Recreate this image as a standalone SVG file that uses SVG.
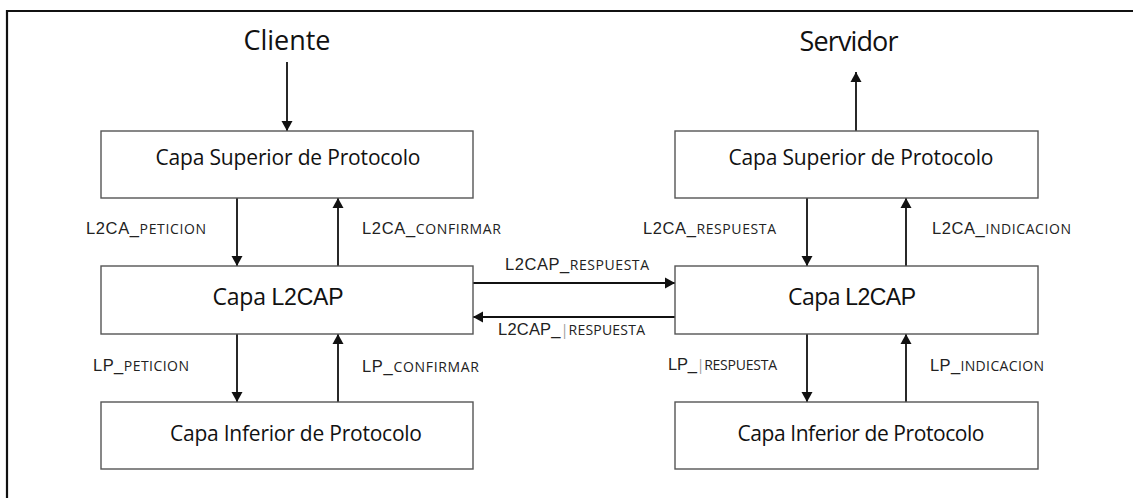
<svg xmlns="http://www.w3.org/2000/svg" width="1133" height="498" viewBox="0 0 1133 498">
  <style>
    .frame { stroke: #111; stroke-width: 2.2; fill: none; }
    .box { fill: #fff; stroke: #555; stroke-width: 1.4; }
    .title { font-family: "Open Sans", "Noto Sans", sans-serif; font-size: 27px; fill: #111; text-anchor: middle; }
    .boxtxt { font-family: "Open Sans", "Noto Sans", sans-serif; font-size: 21px; fill: #111; text-anchor: middle; }
    .l2 { font-family: "Open Sans", "Noto Sans", sans-serif; font-size: 23px; fill: #111; text-anchor: middle; }
    .mono { font-family: "Liberation Sans", Arial, sans-serif; }
    .lbl { font-family: "Liberation Sans", Arial, sans-serif; font-size: 16.5px; fill: #222; }
    .sm { font-family: "Open Sans", "Noto Sans", sans-serif; font-size: 14px; }
    .bar { fill: #999; }
    .conn { stroke: #111; stroke-width: 1.8; fill: none; marker-end: url(#arrow); }
  </style>
  <defs>
    <marker id="arrow" viewBox="0 0 10 14" refX="10" refY="7" markerWidth="11" markerHeight="14" markerUnits="userSpaceOnUse" orient="auto">
      <path d="M0,1.5 L10,7 L0,12.5 Z" fill="#111"/>
    </marker>
  </defs>

  <rect x="0" y="0" width="1133" height="498" fill="#fff"/>
  <!-- outer frame: top and left edges -->
  <path class="frame" d="M7,498 V11 H1133"/>

  <!-- titles -->
  <text class="title" x="287" y="50" textLength="87">Cliente</text>
  <text class="title" x="849" y="51" textLength="99">Servidor</text>

  <!-- connectors -->
  <g id="connectors">
    <line class="conn" x1="287" y1="62" x2="287" y2="131"/>
    <line class="conn" x1="856" y1="131" x2="856" y2="72"/>

    <line class="conn" x1="237" y1="198" x2="237" y2="266"/>
    <line class="conn" x1="338" y1="266" x2="338" y2="198"/>
    <line class="conn" x1="237" y1="334" x2="237" y2="402"/>
    <line class="conn" x1="338" y1="402" x2="338" y2="334"/>

    <line class="conn" x1="807" y1="198" x2="807" y2="266"/>
    <line class="conn" x1="906" y1="266" x2="906" y2="198"/>
    <line class="conn" x1="807" y1="334" x2="807" y2="402"/>
    <line class="conn" x1="906" y1="402" x2="906" y2="334"/>

    <line class="conn" x1="473" y1="283" x2="675" y2="283"/>
    <line class="conn" x1="675" y1="317" x2="473" y2="317"/>

    <!-- connector labels -->
    <text class="lbl" x="86" y="234" textLength="120">L2CA_<tspan class="sm">PETICION</tspan></text>
    <text class="lbl" x="362" y="234" textLength="139">L2CA_<tspan class="sm">CONFIRMAR</tspan></text>
    <text class="lbl" x="643" y="234" textLength="133">L2CA_<tspan class="sm">RESPUESTA</tspan></text>
    <text class="lbl" x="932" y="234" textLength="139">L2CA_<tspan class="sm">INDICACION</tspan></text>

    <text class="lbl" x="505" y="270" textLength="144">L2CAP_<tspan class="sm">RESPUESTA</tspan></text>
    <text class="lbl" x="498" y="335" textLength="147">L2CAP_<tspan class="sm bar">|</tspan><tspan class="sm">RESPUESTA</tspan></text>

    <text class="lbl" x="93" y="371" textLength="96">LP_<tspan class="sm">PETICION</tspan></text>
    <text class="lbl" x="362" y="372" textLength="117">LP_<tspan class="sm">CONFIRMAR</tspan></text>
    <text class="lbl" x="668" y="370" textLength="109">LP_<tspan class="sm bar">|</tspan><tspan class="sm">RESPUESTA</tspan></text>
    <text class="lbl" x="930" y="371" textLength="114">LP_<tspan class="sm">INDICACION</tspan></text>
  </g>

  <!-- client side -->
  <g id="cli-superior">
    <rect class="box" x="101" y="131" width="372" height="67"/>
    <text class="boxtxt" x="288" y="165" textLength="265">Capa Superior de Protocolo</text>
  </g>
  <g id="cli-l2cap">
    <rect class="box" x="101" y="266" width="372" height="68"/>
    <text class="l2" x="278" y="305" textLength="131">Capa <tspan class="mono">L2CAP</tspan></text>
  </g>
  <g id="cli-inferior">
    <rect class="box" x="101" y="402" width="372" height="67"/>
    <text class="boxtxt" x="296" y="441" textLength="252">Capa Inferior de Protocolo</text>
  </g>

  <!-- server side -->
  <g id="srv-superior">
    <rect class="box" x="675" y="131" width="363" height="67"/>
    <text class="boxtxt" x="861" y="165" textLength="265">Capa Superior de Protocolo</text>
  </g>
  <g id="srv-l2cap">
    <rect class="box" x="675" y="266" width="363" height="68"/>
    <text class="l2" x="852" y="305" textLength="128">Capa <tspan class="mono">L2CAP</tspan></text>
  </g>
  <g id="srv-inferior">
    <rect class="box" x="675" y="402" width="363" height="67"/>
    <text class="boxtxt" x="861" y="441" textLength="247">Capa Inferior de Protocolo</text>
  </g>
</svg>
